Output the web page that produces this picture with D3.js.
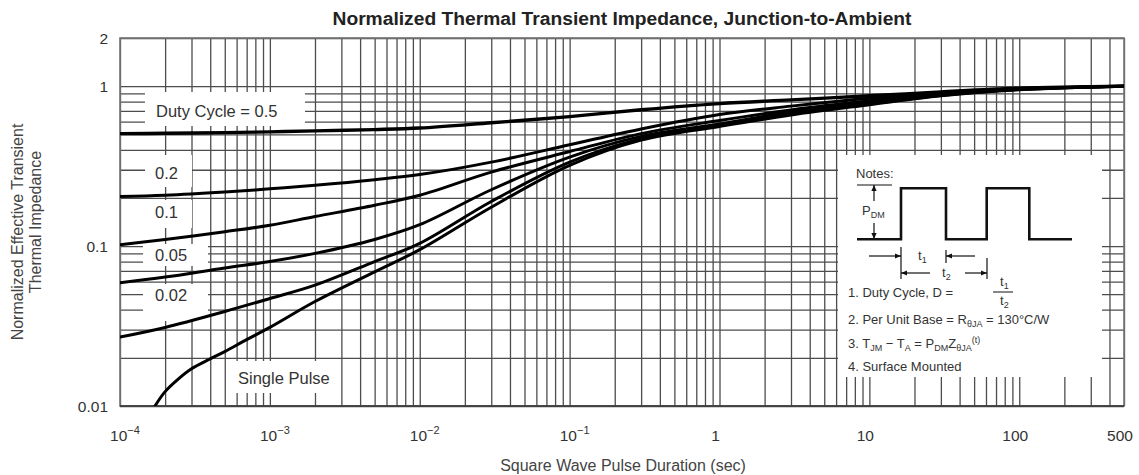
<!DOCTYPE html>
<html><head><meta charset="utf-8">
<script src="https://cdn.jsdelivr.net/npm/d3@7"></script>
<style>
body{margin:0;background:#fff}
svg{display:block}
text{font-family:"Liberation Sans",Arial,Helvetica,sans-serif}
</style>
</head><body>
<svg id="chart" width="1139" height="475"></svg>
<script>
// ---------------- data ----------------
const chartTitle = "Normalized Thermal Transient Impedance, Junction-to-Ambient";
const xAxisTitle = "Square Wave Pulse Duration (sec)";
const yAxisTitle = ["Normalized Effective Transient", "Thermal Impedance"];
const xTickValues = [1e-4, 1e-3, 1e-2, 1e-1, 1, 10, 100, 500];
const xTickBase = ["10", "10", "10", "10", "1", "10", "100", "500"];
const xTickExp  = ["−4", "−3", "−2", "−1", "", "", "", ""];
const yTickValues = [0.01, 0.1, 1, 2];
const yTickLabels = ["0.01", "0.1", "1", "2"];
const seriesLabels = ["Duty Cycle = 0.5", "0.2", "0.1", "0.05", "0.02", "Single Pulse"];

const tDuty = [1e-4, 2e-4, 5e-4, 1e-3, 2e-3, 5e-3, 1e-2, 3e-2, 0.1, 0.3, 1, 3, 10, 30, 100, 500];
const zD05  = [0.505, 0.507, 0.512, 0.518, 0.525, 0.535, 0.547, 0.59, 0.645, 0.712, 0.778, 0.82, 0.87, 0.92, 0.97, 1.0];
const zD02  = [0.204, 0.208, 0.218, 0.228, 0.24, 0.26, 0.28, 0.335, 0.43, 0.54, 0.665, 0.75, 0.84, 0.91, 0.965, 1.0];
const zD01  = [0.102, 0.11, 0.123, 0.135, 0.153, 0.18, 0.208, 0.29, 0.39, 0.505, 0.61, 0.71, 0.81, 0.895, 0.96, 1.0];
const zD005 = [0.059, 0.064, 0.073, 0.08, 0.09, 0.11, 0.136, 0.225, 0.36, 0.485, 0.58, 0.69, 0.79, 0.885, 0.955, 1.0];
const zD002 = [0.027, 0.031, 0.039, 0.047, 0.057, 0.08, 0.104, 0.19, 0.335, 0.47, 0.57, 0.67, 0.775, 0.875, 0.955, 1.0];
const tSingle = [1.7e-4, 2e-4, 2.5e-4, 3e-4, 4e-4, 5e-4, 7e-4, 1e-3, 2e-3, 5e-3, 1e-2, 3e-2, 0.1, 0.3, 1, 3, 10, 30, 100, 500];
const zSingle = [0.0099, 0.0123, 0.015, 0.0171, 0.0197, 0.0219, 0.026, 0.031, 0.045, 0.069, 0.095, 0.175, 0.32, 0.46, 0.56, 0.66, 0.765, 0.87, 0.95, 1.0];

// ---------------- layout ----------------
const svg = d3.select("#chart");
const L = 120, R = 1124, T = 38, B = 406;
const x = d3.scaleLog().domain([1e-4, 500]).range([L, R]);
const y = d3.scaleLog().domain([0.01, 2]).range([B, T]);
const GRID = "#4d4d4d";

// grid tick values (decade sub-divisions)
const xGrid = [];
for (let k = -4; k <= 2; k++) for (let m = 1; m <= 9; m++) { const v = m * Math.pow(10, k); if (v <= 500 * 1.001) xGrid.push(v); }
const yGrid = [];
for (let k = -2; k <= 0; k++) for (let m = 1; m <= 9; m++) { const v = m * Math.pow(10, k); if (v <= 2.001) yGrid.push(v); }

// vertical grid
svg.append("g").attr("transform", `translate(0,${B})`)
  .call(d3.axisBottom(x).tickValues(xGrid).tickSize(-(B - T)).tickSizeOuter(0).tickFormat(""))
  .call(g => g.select(".domain").remove())
  .call(g => g.selectAll(".tick line").attr("stroke", GRID).attr("stroke-width", 1.3));
// horizontal grid
svg.append("g").attr("transform", `translate(${L},0)`)
  .call(d3.axisLeft(y).tickValues(yGrid).tickSize(-(R - L)).tickSizeOuter(0).tickFormat(""))
  .call(g => g.select(".domain").remove())
  .call(g => g.selectAll(".tick line").attr("stroke", GRID).attr("stroke-width", 1.3));

// frame
svg.append("rect").attr("x", L).attr("y", T).attr("width", R - L).attr("height", B - T)
  .attr("fill", "none").attr("stroke", "#777").attr("stroke-width", 1.6);
svg.append("line").attr("x1", L).attr("x2", R).attr("y1", B).attr("y2", B).attr("stroke", "#333").attr("stroke-width", 1.6);

// label background boxes (cover grid)
const labelBoxes = [
  {rx: 145, ry: 92,  rw: 160, rh: 34, tx: 156, ty: 117},
  {rx: 145, ry: 155, rw: 47,  rh: 32, tx: 155, ty: 179},
  {rx: 145, ry: 200, rw: 47,  rh: 28, tx: 155, ty: 218},
  {rx: 143, ry: 244, rw: 65,  rh: 22, tx: 155, ty: 261},
  {rx: 143, ry: 284, rw: 65,  rh: 37, tx: 155, ty: 301},
  {rx: 232, ry: 361, rw: 106, rh: 32, tx: 238, ty: 384}
];
labelBoxes.forEach(b => svg.append("rect").attr("x", b.rx).attr("y", b.ry).attr("width", b.rw).attr("height", b.rh).attr("fill", "#fff"));

// notes box background
svg.append("rect").attr("x", 838).attr("y", 155).attr("width", 264).attr("height", 222).attr("fill", "#fff");

// curves
const series = [
  {t: tDuty, z: zD05, w: 3.4},
  {t: tDuty, z: zD02, w: 3},
  {t: tDuty, z: zD01, w: 3},
  {t: tDuty, z: zD005, w: 3},
  {t: tDuty, z: zD002, w: 3},
  {t: tSingle, z: zSingle, w: 3}
];
svg.append("clipPath").attr("id", "clip").append("rect").attr("x", L).attr("y", T).attr("width", R - L).attr("height", B - T);
const line = d3.line().x(d => x(d[0])).y(d => y(d[1])).curve(d3.curveCatmullRom.alpha(0.5));
const cg = svg.append("g").attr("clip-path", "url(#clip)");
series.forEach(s => {
  cg.append("path").attr("d", line(s.t.map((t, i) => [t, s.z[i]])))
    .attr("fill", "none").attr("stroke", "#000").attr("stroke-width", s.w)
    .attr("stroke-linejoin", "round").attr("stroke-linecap", "round");
});

// series labels
labelBoxes.forEach((b, i) => svg.append("text").attr("x", b.tx).attr("y", b.ty)
  .attr("font-size", 16.5).attr("fill", "#333").text(seriesLabels[i]));

// title
svg.append("text").attr("x", 622).attr("y", 25).attr("text-anchor", "middle")
  .attr("font-size", 18).attr("font-weight", "bold").attr("fill", "#222")
  .attr("textLength", 579).attr("lengthAdjust", "spacingAndGlyphs").text(chartTitle);

// y tick labels
yTickValues.forEach((v, i) => svg.append("text").attr("x", 108).attr("y", y(v) + 5.5)
  .attr("text-anchor", "end").attr("font-size", 15.5).attr("fill", "#333").text(yTickLabels[i]));

// x tick labels
xTickValues.forEach((v, i) => {
  const t = svg.append("text").attr("x", x(v) + (xTickExp[i] ? 5 : -4)).attr("y", 441)
    .attr("text-anchor", "middle").attr("font-size", 15.5).attr("fill", "#333");
  t.append("tspan").text(xTickBase[i]);
  if (xTickExp[i]) t.append("tspan").attr("dy", -7).attr("font-size", 11).text(xTickExp[i]);
});

// axis titles
svg.append("text").attr("x", 623).attr("y", 471).attr("text-anchor", "middle")
  .attr("font-size", 16).attr("fill", "#444").text(xAxisTitle);
svg.append("text").attr("transform", "translate(23,232) rotate(-90)").attr("text-anchor", "middle")
  .attr("font-size", 16).attr("fill", "#444").text(yAxisTitle[0]);
svg.append("text").attr("transform", "translate(41,222) rotate(-90)").attr("text-anchor", "middle")
  .attr("font-size", 16).attr("fill", "#444").text(yAxisTitle[1]);

// ---------------- notes ----------------
const ng = svg.append("g").attr("fill", "#333").attr("font-size", 13);
const stroke = (d, w) => ng.append("path").attr("d", d).attr("fill", "none").attr("stroke", "#111").attr("stroke-width", w || 1.2);
const arrow = (px, py, dir) => { // arrow tip at px,py
  const s = 6, h = 2.6;
  let pts;
  if (dir === "r") pts = [[px, py], [px - s, py - h], [px - s, py + h]];
  if (dir === "l") pts = [[px, py], [px + s, py - h], [px + s, py + h]];
  if (dir === "u") pts = [[px, py], [px - h, py + s], [px + h, py + s]];
  if (dir === "d") pts = [[px, py], [px - h, py - s], [px + h, py - s]];
  ng.append("path").attr("d", "M" + pts.join("L") + "Z").attr("fill", "#111");
};
ng.append("text").attr("x", 856).attr("y", 178).text("Notes:");
// square wave
stroke("M857,239.3H901V188.3H946V239.3H986.7V188.3H1029.3V239.3H1072", 2.6);
// P_DM dimension
stroke("M857,185H892");
stroke("M874,185V201"); arrow(874, 185, "u");
stroke("M874,223V239"); arrow(874, 239, "d");
const pdm = ng.append("text").attr("x", 862).attr("y", 215);
pdm.append("tspan").text("P"); pdm.append("tspan").attr("font-size", 9).attr("dy", 3).text("DM");
// t1
stroke("M901,247V279"); stroke("M946,250V263"); stroke("M987,258V279");
stroke("M869,256H901"); arrow(901, 256, "r");
stroke("M946,256H975"); arrow(946, 256, "l");
const t1 = ng.append("text").attr("x", 918).attr("y", 260);
t1.append("tspan").text("t"); t1.append("tspan").attr("font-size", 9).attr("dy", 3).text("1");
// t2
stroke("M901,273H930"); arrow(901, 273, "l");
stroke("M965,273H987"); arrow(987, 273, "r");
const t2 = ng.append("text").attr("x", 942).attr("y", 277);
t2.append("tspan").text("t"); t2.append("tspan").attr("font-size", 9).attr("dy", 3).text("2");
// note lines
ng.append("text").attr("x", 848).attr("y", 297).text("1. Duty Cycle, D =");
const fn = ng.append("text").attr("x", 1000).attr("y", 286);
fn.append("tspan").text("t"); fn.append("tspan").attr("font-size", 9).attr("dy", 3).text("1");
stroke("M993,292H1013", 1);
const fd = ng.append("text").attr("x", 1000).attr("y", 305);
fd.append("tspan").text("t"); fd.append("tspan").attr("font-size", 9).attr("dy", 3).text("2");

const n2 = ng.append("text").attr("x", 848).attr("y", 324);
n2.append("tspan").text("2. Per Unit Base = R");
n2.append("tspan").attr("font-size", 9).attr("dy", 3).text("θJA");
n2.append("tspan").attr("dy", -3).text(" = 130°C/W");

const n3 = ng.append("text").attr("x", 848).attr("y", 348);
n3.append("tspan").text("3. T");
n3.append("tspan").attr("font-size", 9).attr("dy", 3).text("JM");
n3.append("tspan").attr("dy", -3).text(" − T");
n3.append("tspan").attr("font-size", 9).attr("dy", 3).text("A");
n3.append("tspan").attr("dy", -3).text(" = P");
n3.append("tspan").attr("font-size", 9).attr("dy", 3).text("DM");
n3.append("tspan").attr("dy", -3).text("Z");
n3.append("tspan").attr("font-size", 9).attr("dy", 3).text("θJA");
n3.append("tspan").attr("font-size", 9).attr("dy", -8).text("(t)");

ng.append("text").attr("x", 848).attr("y", 371).text("4. Surface Mounted");
</script>
</body></html>
